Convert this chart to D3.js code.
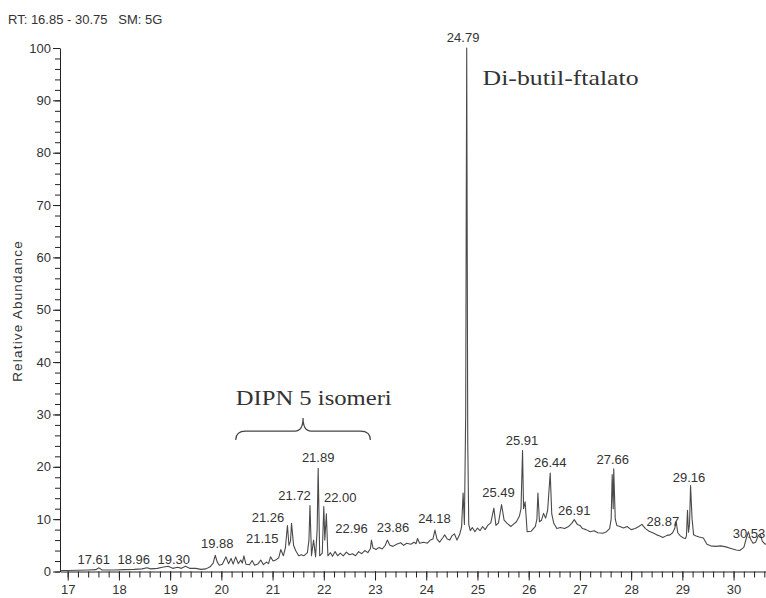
<!DOCTYPE html>
<html>
<head>
<meta charset="utf-8">
<script src="https://cdn.jsdelivr.net/npm/d3@7"></script>
<style>
  body { margin: 0; background: #fff; }
  svg { display: block; }
</style>
</head>
<body>
<script>
// chromatogram, RT 16.85 - 30.75 min
const rtRange = [16.85, 30.75]
const xTicks = [17, 18, 19, 20, 21, 22, 23, 24, 25, 26, 27, 28, 29, 30]
const yTicks = [0, 10, 20, 30, 40, 50, 60, 70, 80, 90, 100]

// [retention time, relative abundance]
const trace = [
  [16.85,0.2],[17.0,0.2],[17.2,0.25],[17.4,0.3],[17.55,0.35],[17.61,0.7],[17.67,0.3],[17.9,0.3],[18.1,0.35],
  [18.3,0.4],[18.45,0.5],[18.55,0.7],[18.62,0.5],[18.75,0.6],[18.85,0.8],[18.96,1.0],[19.05,0.6],[19.15,0.8],
  [19.22,0.6],[19.30,1.0],[19.38,0.6],[19.5,0.6],[19.6,0.4],[19.7,0.5],[19.78,0.9],
  [19.84,1.6],[19.88,3.1],[19.92,1.8],[19.96,1.2],[20.02,1.4],[20.09,2.8],[20.14,1.5],[20.19,2.5],[20.23,1.4],
  [20.28,2.8],[20.33,1.5],[20.38,2.2],[20.41,1.6],[20.44,3.0],[20.48,1.4],[20.55,1.3],[20.6,2.1],[20.65,1.2],
  [20.72,1.5],[20.77,2.2],[20.82,1.3],[20.88,1.8],[20.92,1.5],[20.96,2.8],[21.01,2.0],[21.06,2.2],[21.12,2.6],
  [21.16,4.2],[21.21,3.0],[21.25,4.5],[21.29,8.8],[21.32,5.0],[21.35,5.8],[21.37,9.2],[21.41,5.0],[21.45,4.0],
  [21.51,3.0],[21.56,3.2],[21.61,3.0],[21.68,3.6],[21.71,6.0],[21.73,12.6],[21.76,3.0],[21.80,6.0],[21.84,2.8],
  [21.87,8.0],[21.89,19.7],[21.92,3.0],[21.97,3.5],[22.00,12.4],[22.02,6.0],[22.05,11.0],[22.08,3.0],
  [22.13,3.6],[22.17,2.9],[22.22,3.8],[22.27,3.0],[22.32,3.5],[22.38,3.0],[22.44,3.7],[22.5,3.2],[22.56,3.4],
  [22.62,3.0],[22.68,3.8],[22.74,3.4],[22.8,4.0],[22.86,3.6],[22.91,4.4],[22.93,6.0],[22.96,4.5],[23.02,4.2],
  [23.08,4.6],[23.14,4.3],[23.2,5.0],[23.24,6.0],[23.29,5.0],[23.35,4.8],[23.42,5.2],[23.5,5.5],[23.56,5.0],
  [23.62,5.4],[23.7,5.2],[23.76,5.6],[23.8,5.3],[23.83,6.3],[23.87,5.4],[23.95,5.6],[24.02,5.4],[24.08,6.0],
  [24.13,6.2],[24.17,7.9],[24.21,6.2],[24.26,5.6],[24.32,6.4],[24.36,7.0],[24.41,6.2],[24.46,6.0],[24.5,6.8],
  [24.55,7.2],[24.6,6.0],[24.65,7.0],[24.69,8.5],[24.72,15],[24.745,9],[24.77,30],[24.79,100],[24.81,25],
  [24.83,9],[24.86,7.8],[24.9,8.4],[24.95,7.6],[25.0,8.3],[25.05,7.8],[25.1,8.6],[25.15,8.0],[25.2,8.8],
  [25.26,9.3],[25.32,12.1],[25.36,8.8],[25.41,9.3],[25.47,12.8],[25.52,9.8],[25.58,9.2],[25.65,8.6],[25.7,9.0],
  [25.76,9.5],[25.82,10.6],[25.85,12],[25.88,23.1],[25.90,12],[25.93,13.3],[25.97,7.6],[26.05,7.7],[26.13,8.6],
  [26.16,10],[26.18,15],[26.21,9.5],[26.25,9.8],[26.29,11.1],[26.33,10.2],[26.37,11.7],[26.42,18.8],[26.45,11],
  [26.49,9.2],[26.55,8.2],[26.62,8.4],[26.7,8.2],[26.78,8.6],[26.84,9.2],[26.89,9.9],[26.95,9.0],[27.0,8.8],
  [27.05,8.2],[27.12,8.0],[27.2,7.6],[27.28,7.8],[27.35,7.4],[27.45,7.3],[27.52,7.6],[27.58,8.2],[27.61,10],
  [27.63,18.5],[27.65,12],[27.66,19.6],[27.69,10],[27.72,8.8],[27.78,8.6],[27.85,8.3],[27.92,8.6],[28.0,8.0],
  [28.08,8.2],[28.15,8.6],[28.21,9.0],[28.28,8.2],[28.35,7.7],[28.42,7.4],[28.5,7.0],[28.56,6.8],[28.62,6.5],
  [28.7,6.9],[28.76,7.0],[28.81,7.4],[28.85,8.2],[28.88,9.5],[28.91,7.4],[28.96,6.8],[29.02,6.4],[29.06,6.3],
  [29.08,6.8],[29.10,11.7],[29.12,7.5],[29.14,9],[29.16,16.4],[29.19,10],[29.22,7.0],[29.27,6.8],[29.33,6.6],
  [29.41,6.4],[29.48,5.2],[29.55,4.9],[29.65,4.8],[29.75,4.9],[29.85,4.7],[29.95,4.4],[30.05,4.1],[30.12,4.0],
  [30.2,4.6],[30.25,6.4],[30.29,7.6],[30.33,6.2],[30.38,5.4],[30.43,5.6],[30.48,6.8],[30.52,7.2],[30.56,5.8],
  [30.62,5.2],[30.68,5.6],[30.75,5.0]
]

// peak labels and where the software put them (rt, abundance of the label baseline)
const peakLabels = ["17.61","18.96","19.30","19.88","21.15","21.26","21.72","21.89","22.00","22.96","23.86",
  "24.18","24.79","25.49","25.91","26.44","26.91","27.66","28.87","29.16","30.53"]
const labelRt = [17.51,18.29,19.07,19.92,20.80,20.91,21.43,21.89,22.32,22.54,23.35,
  24.16,24.72,25.41,25.87,26.42,26.89,27.64,28.62,29.13,30.30]
const labelLevel = [1.4,1.4,1.4,4.5,5.4,9.5,13.6,20.9,13.3,7.3,7.6,
  9.3,101.1,14.3,24.1,19.9,10.8,20.6,8.7,17.1,6.4]

// hand annotations
const notes = ["Di-butil-ftalato", "DIPN 5 isomeri"]
const noteRt = [25.10, 20.28]
const noteLevel = [93.0, 31.8]
const braceSpan = [20.28, 22.91]
const braceLevel = [25.1, 29.3]

const width = 766, height = 598
const x = d3.scaleLinear().domain(rtRange).range([60, 772])
const y = d3.scaleLinear().domain([0, 100]).range([571.5, 48])

const svg = d3.select("body").append("svg")
    .attr("width", width)
    .attr("height", height)
    .style("font-family", "'Liberation Sans', Arial, sans-serif")

svg.append("text")
    .attr("x", 8)
    .attr("y", 24)
    .attr("font-size", 13)
    .attr("fill", "#333")
    .style("white-space", "pre")
    .text("RT: 16.85 - 30.75   SM: 5G")

// y axis, minor every 2 then major every 10
svg.append("g")
    .attr("transform", "translate(60,0)")
    .call(d3.axisLeft(y).tickValues(d3.range(0, 101, 2)).tickSize(5).tickFormat(""))
    .call(g => g.select(".domain").remove())
const yAxis = svg.append("g")
    .attr("transform", "translate(60,0)")
    .call(d3.axisLeft(y).tickValues(yTicks).tickSize(7).tickSizeOuter(0).tickPadding(2))

// x axis
svg.append("g")
    .attr("transform", "translate(0," + y(0) + ")")
    .call(d3.axisBottom(x).tickValues(d3.range(17, 30.75, 0.2)).tickSize(6).tickFormat(""))
    .call(g => g.select(".domain").remove())
const xAxis = svg.append("g")
    .attr("transform", "translate(0," + y(0) + ")")
    .call(d3.axisBottom(x).tickValues(xTicks).tickSize(9).tickSizeOuter(0).tickPadding(4).tickFormat(d3.format("d")))

svg.selectAll(".tick line, .domain").attr("stroke", "#222")
svg.selectAll(".tick text")
    .attr("font-size", 13)
    .attr("font-family", "'Liberation Sans', Arial, sans-serif")
    .attr("fill", "#333")

svg.append("text")
    .attr("transform", "translate(22,311) rotate(-90)")
    .attr("text-anchor", "middle")
    .attr("font-size", 13.5)
    .attr("letter-spacing", 1.2)
    .attr("fill", "#333")
    .text("Relative Abundance")

// the trace
const line = d3.line()
    .x(d => x(d[0]))
    .y(d => y(d[1]))
    .curve(d3.curveLinear)

svg.append("path")
    .datum(trace)
    .attr("d", line)
    .attr("fill", "none")
    .attr("stroke", "#4a4a4a")
    .attr("stroke-width", 1.1)
    .style("stroke-linejoin", "round")

svg.append("g").selectAll("text")
    .data(peakLabels)
    .join("text")
    .attr("x", (d, i) => x(labelRt[i]))
    .attr("y", (d, i) => y(labelLevel[i]))
    .attr("text-anchor", "middle")
    .attr("font-size", 13)
    .attr("fill", "#333")
    .text(d => d)

svg.append("g").selectAll("text")
    .data(notes)
    .join("text")
    .attr("x", (d, i) => x(noteRt[i]))
    .attr("y", (d, i) => y(noteLevel[i]))
    .attr("font-family", "'Liberation Serif', 'Times New Roman', serif")
    .attr("font-size", 22)
    .attr("textLength", 156)
    .attr("lengthAdjust", "spacingAndGlyphs")
    .attr("fill", "#333")
    .text(d => d)

// curly brace over the DIPN peaks
const bx0 = x(braceSpan[0]), bx1 = x(braceSpan[1]), bxm = (bx0 + bx1) / 2
const by0 = y(braceLevel[0]), by1 = y(braceLevel[1])
const bmid = (by0 + by1) / 2 + 2
const brace = d3.path()
brace.moveTo(bx0, by0)
brace.quadraticCurveTo(bx0, bmid, bx0 + 10, bmid)
brace.lineTo(bxm - 8, bmid)
brace.quadraticCurveTo(bxm, bmid, bxm, by1)
brace.quadraticCurveTo(bxm, bmid, bxm + 8, bmid)
brace.lineTo(bx1 - 10, bmid)
brace.quadraticCurveTo(bx1, bmid, bx1, by0)
svg.append("path")
    .attr("d", brace.toString())
    .attr("fill", "none")
    .attr("stroke", "#444")
    .attr("stroke-width", 1.2)
</script>
</body>
</html>
